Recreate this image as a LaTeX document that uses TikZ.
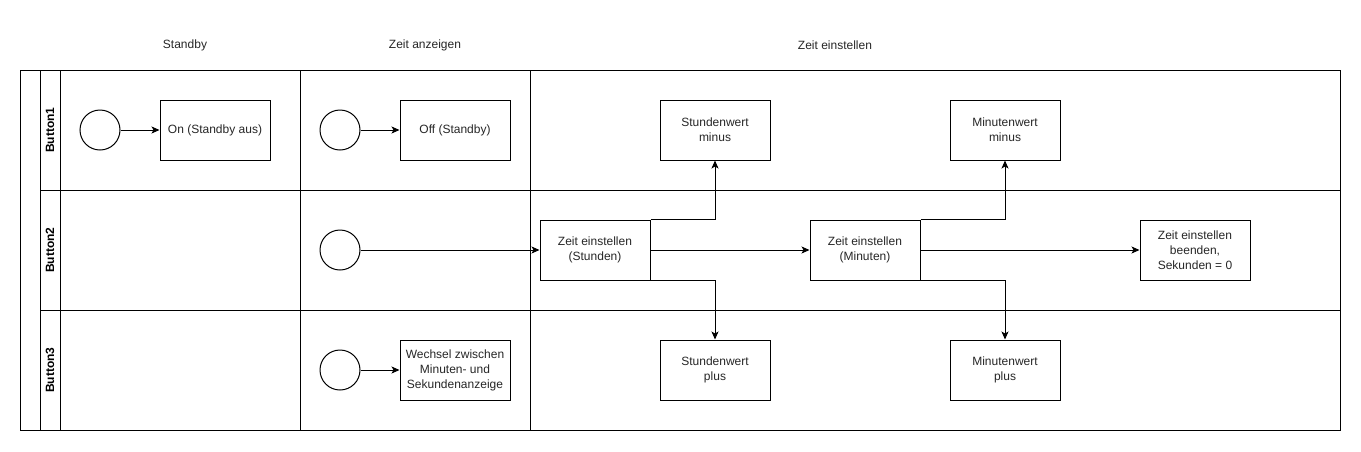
\documentclass[tikz,border=0pt]{standalone}
\usepackage{fontspec}
\setmainfont{Liberation Sans}
\usetikzlibrary{arrows.meta}
\begin{document}
\begin{tikzpicture}[x=1pt,y=-1pt,
  every node/.style={font=\fontsize{12}{15}\selectfont, text=black!85},
  frame/.style={line width=1pt, draw=black},
  stepbox/.style={draw, line width=1pt, minimum width=110pt, minimum height=60pt, align=center, inner sep=1pt},
  startcirc/.style={draw, circle, line width=1pt, minimum size=40pt, inner sep=0pt},
  lanelabel/.style={rotate=90, font=\fontsize{12}{15}\selectfont\bfseries, text=black},
  conn/.style={line width=1pt, -{Stealth[length=8pt,width=7pt,inset=2pt]}}
]
\useasboundingbox (0,0) rectangle (1361,451);
% pool frame
\draw[frame] (20,70) rectangle (1340,430);
\draw[frame] (40,70) -- (40,430);
\draw[frame] (60,70) -- (60,430);
\draw[frame] (40,190) -- (1340,190);
\draw[frame] (40,310) -- (1340,310);
\draw[frame] (300,70) -- (300,430);
\draw[frame] (530,70) -- (530,430);
% column headers
\node (h1) at (185,45) {Standby};
\node (h2) at (425,45) {Zeit anzeigen};
\node (h3) at (835,45) {Zeit einstellen};
% lane labels
\node[lanelabel] (l1) at (50,130) {Button1};
\node[lanelabel] (l2) at (50,250) {Button2};
\node[lanelabel] (l3) at (50,370) {Button3};
% start circles
\node[startcirc] (c1) at (100,130) {};
\node[startcirc] (c2) at (340,130) {};
\node[startcirc] (c3) at (340,250) {};
\node[startcirc] (c4) at (340,370) {};
% boxes
\node[stepbox] (on) at (215,130) {On (Standby aus)};
\node[stepbox] (off) at (455,130) {Off (Standby)};
\node[stepbox] (wech) at (455,370) {Wechsel zwischen\\Minuten- und\\Sekundenanzeige};
\node[stepbox] (zs) at (595,250) {Zeit einstellen\\(Stunden)};
\node[stepbox] (zm) at (865,250) {Zeit einstellen\\(Minuten)};
\node[stepbox] (zb) at (1195,250) {Zeit einstellen\\beenden,\\Sekunden = 0};
\node[stepbox] (sm) at (715,130) {Stundenwert\\minus};
\node[stepbox] (sp) at (715,370) {Stundenwert\\plus};
\node[stepbox] (mm) at (1005,130) {Minutenwert\\minus};
\node[stepbox] (mp) at (1005,370) {Minutenwert\\plus};
% connectors
\draw[conn] (c1) -- (on);
\draw[conn] (c2) -- (off);
\draw[conn] (c3) -- (zs);
\draw[conn] (c4) -- (wech);
\draw[conn] (zs) -- (zm);
\draw[conn] (zm) -- (zb);
\draw[conn] (zs.north east) -| (sm.south);
\draw[conn] (zs.south east) -| (sp.north);
\draw[conn] (zm.north east) -| (mm.south);
\draw[conn] (zm.south east) -| (mp.north);
\end{tikzpicture}
\end{document}
